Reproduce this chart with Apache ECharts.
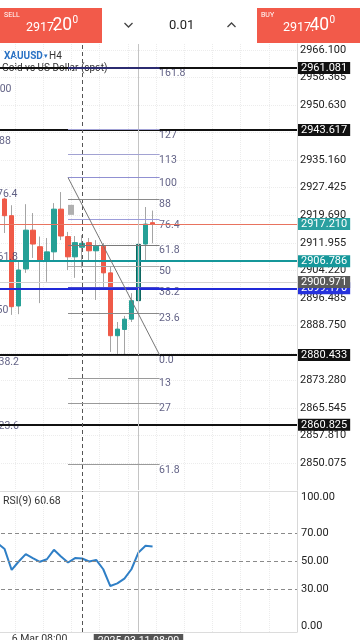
<!DOCTYPE html>
<html><head><meta charset="utf-8">
<script src="https://cdn.jsdelivr.net/npm/echarts@6/dist/echarts.min.js"></script>
<style>html,body{margin:0;padding:0;background:#fff;overflow:hidden;width:360px;height:640px;position:relative;}
#c{position:absolute;left:-13px;top:0;width:373px;height:640px;}</style>
</head><body><div id="c"></div>
<script>
// ---------- data ----------
const leadTimes = ['5 Mar 20:00', '6 Mar 00:00'];
const candleTimes = ['6 Mar 04:00','6 Mar 08:00','6 Mar 12:00','6 Mar 16:00','6 Mar 20:00',
  '7 Mar 00:00','7 Mar 04:00','7 Mar 08:00','7 Mar 12:00','7 Mar 16:00','7 Mar 20:00',
  '10 Mar 00:00','10 Mar 04:00','10 Mar 08:00','10 Mar 12:00','10 Mar 16:00','10 Mar 20:00',
  '11 Mar 00:00','11 Mar 04:00','11 Mar 08:00','11 Mar 12:00','11 Mar 16:00'];
const futureTimes = ['11 Mar 20:00','12 Mar 00:00','12 Mar 04:00','12 Mar 08:00','12 Mar 12:00','12 Mar 16:00','12 Mar 20:00',
  '13 Mar 00:00','13 Mar 04:00','13 Mar 08:00','13 Mar 12:00','13 Mar 16:00','13 Mar 20:00',
  '14 Mar 00:00','14 Mar 04:00','14 Mar 08:00','14 Mar 12:00','14 Mar 16:00','14 Mar 20:00','17 Mar 00:00'];

const opens  = [2924.25, 2919.56, 2894.2, 2904.6, 2915.5, 2910.85, 2906.9, 2909.4, 2921.4, 2913.7, 2908.0,
                2910.7, 2912.0, 2909.7, 2911.0, 2903.5, 2885.85, 2887.6, 2890.5, 2895.7, 2911.6, 2917.6];
const closes = [2919.56, 2894.0, 2904.3, 2915.5, 2911.6, 2906.9, 2909.4, 2921.4, 2913.85, 2908.0, 2912.0,
                2911.8, 2909.7, 2911.0, 2903.5, 2885.85, 2887.7, 2890.5, 2895.7, 2911.5, 2917.2, 2917.21];
const highs  = [2924.6, 2922.5, 2907.1, 2922.8, 2920.3, 2913.7, 2913.3, 2923.1, 2926.2, 2915.0, 2913.85,
                2914.1, 2913.3, 2912.7, 2911.9, 2905.4, 2889.7, 2891.4, 2897.8, 2911.6, 2922.0, 2921.0];
const lows   = [2914.7, 2891.7, 2891.9, 2903.5, 2907.7, 2895.0, 2901.0, 2906.6, 2912.7, 2904.3, 2902.1,
                2904.9, 2907.1, 2895.9, 2898.7, 2881.3, 2880.4, 2880.5, 2889.7, 2895.5, 2907.1, 2911.8];

// RSI(9): first value belongs to leadTimes[1], then one per candle
const rsi9 = [63.0, 58.8, 44.0, 50.0, 55.2, 52.4, 49.8, 51.6, 58.3, 53.6, 49.3, 52.4,
              52.1, 50.0, 51.1, 44.5, 32.6, 34.5, 37.9, 44.5, 56.4, 61.1, 60.68];

const priceTicks = [2966.100, 2958.365, 2950.630, 2942.895, 2935.160, 2927.425, 2919.690, 2911.955,
                    2904.220, 2896.485, 2888.750, 2881.015, 2873.280, 2865.545, 2857.810, 2850.075];
const hiddenTickLabels = [2942.895, 2881.015];
const levelPrices = [2961.081, 2943.617, 2917.210, 2906.786, 2899.170, 2900.971, 2880.433, 2860.825];

const fibLabels = ['161.8','127','113','100','88','76.4','61.8','50','38.2','23.6','0.0','13','27','61.8'];
const fibPrices = [2961.08, 2943.73, 2936.75, 2930.28, 2924.29, 2918.51, 2911.24, 2905.36, 2899.47,
                   2892.20, 2880.43, 2873.95, 2866.98, 2849.63];
const leftFibLabels = ['100','88','76.4','61.8','50','38.2','23.6'];
const leftFibPrices = [2954.87, 2940.40, 2925.52, 2907.68, 2892.93, 2878.33, 2860.35];

const rsiMidTicks = [30, 50, 70];
const rsiLevels = [30, 50, 70];
const markerPrice = 2921.2;
const crosshairLabel = '2025.03.11 08:00';

// ---------- styles ----------
const UP = '#26a096', DOWN = '#ef5a48', WICK = '#a5a5a5';
const levelStyles = [
  {c:'#111', w:2, bg:'#111'}, {c:'#111', w:2, bg:'#111'}, {c:'#e8735f', w:1, bg:'#2aa0a0'},
  {c:'#15979a', w:2, bg:'#15979a'}, {c:'#2029d8', w:2, bg:'#2632dc'}, {c:'#d2d2d2', w:1, bg:'#5a5a5a'},
  {c:'#111', w:2, bg:'#111'}, {c:'#111', w:2, bg:'#111'}
];
const fibColors = ['#2b2b70','#a2a2d6','#a2a2d2','#9090d2','#8a8a8a','#9d9dda','#7a7a7a','#ababab',
                   '#4a4ad0','#8a8a8a','#333','#9a9a9a','#9a9a9a','#9a9a9a'];
const leftLabelDx = [3.8, 9, 7, 7.5, 6.5, 8.5, 8.5];

// ---------- build ----------
const cats = leadTimes.concat(candleTimes, futureTimes);
const lead = leadTimes.length;
const fibStart = lead + 9, fibEnd = lead + 22;
const sepIdx = lead + candleTimes.indexOf('10 Mar 00:00');
const crossIdx = lead + candleTimes.indexOf('11 Mar 08:00');
const labelIdx = lead + candleTimes.indexOf('6 Mar 08:00');
const FONT = 'Roboto';
const OX = 13; // chart canvas starts 13px left of the page

const wickData = opens.map((o, i) => [lead + i, o, closes[i], lows[i], highs[i]]);
const bodyData = opens.map((o, i) => {
  const v = [lead + i, o, closes[i], Math.min(o, closes[i]), Math.max(o, closes[i])];
  return i === 19 ? {value: v, itemStyle: {borderColor: '#0d6660', borderWidth: 1}} : v;
});
const rsiData = rsi9.map((v, i) => [lead - 1 + i, v]);

const rsiAxisBase = {type: 'value', gridIndex: 1, position: 'right', min: 0, max: 100,
  axisTick: {show: false}, splitLine: {show: false}};
const chart = echarts.init(document.getElementById('c'));
const option = {
  animation: false,
  backgroundColor: '#fff',
  textStyle: {fontFamily: FONT},
  grid: [
    {left: 0, right: 63, top: 44, height: 446, outerBoundsMode: 'none', containLabel: false},
    {left: 0, right: 63, top: 491, height: 141, outerBoundsMode: 'none', containLabel: false}
  ],
  xAxis: [
    {type: 'category', gridIndex: 0, data: cats, boundaryGap: true,
     axisLine: {show: false}, axisTick: {show: false}, axisLabel: {show: false},
     splitLine: {show: true, interval: 3, lineStyle: {color: '#ececec', type: 'dotted'}}},
    {type: 'category', gridIndex: 1, data: cats, boundaryGap: true,
     axisLine: {show: true, lineStyle: {color: '#dcdcdc'}}, axisTick: {show: false},
     axisLabel: {interval: (i) => i === labelIdx, align: 'left', color: '#333', fontSize: 10.5, margin: 2, fontFamily: FONT},
     splitLine: {show: true, interval: 3, lineStyle: {color: '#ececec', type: 'dotted'}}}
  ],
  yAxis: [
    {type: 'value', gridIndex: 0, position: 'right', min: 2842.51, max: 2967.79, scale: true,
     axisLine: {show: true, lineStyle: {color: '#d8d8d8'}},
     axisTick: {show: false, customValues: priceTicks},
     axisLabel: {customValues: priceTicks.filter(v => hiddenTickLabels.indexOf(v) < 0),
       formatter: v => v.toFixed(3), color: '#222', fontSize: 11, margin: 3, fontFamily: FONT},
     splitLine: {show: true, lineStyle: {color: '#ececec', type: 'dotted'}}},
    Object.assign({}, rsiAxisBase, {
     axisLine: {show: true, lineStyle: {color: '#d8d8d8'}},
     axisLabel: {customValues: rsiMidTicks, margin: 4, color: '#222', fontSize: 11, fontFamily: FONT,
       formatter: v => v.toFixed(2)}}),
    Object.assign({}, rsiAxisBase, {
     axisLine: {show: false},
     axisLabel: {customValues: [100], showMaxLabel: true, margin: 4, color: '#222', fontSize: 11, fontFamily: FONT,
       verticalAlign: 'top', padding: [1, 0, 0, 0], formatter: v => v.toFixed(2)}}),
    Object.assign({}, rsiAxisBase, {
     axisLine: {show: false},
     axisLabel: {customValues: [0], showMinLabel: true, margin: 4, color: '#222', fontSize: 11, fontFamily: FONT,
       verticalAlign: 'bottom', formatter: v => v.toFixed(2)}})
  ],
  series: [
    {type: 'candlestick', name: 'wick', xAxisIndex: 0, yAxisIndex: 0, barWidth: 1,
     encode: {x: 0, y: [1, 2, 3, 4]}, data: wickData, silent: true,
     itemStyle: {color: WICK, color0: WICK, borderColor: WICK, borderColor0: WICK, borderWidth: 1},
     markLine: {silent: true, symbol: ['none', 'none'], animation: false,
       data: levelPrices.map((p, i) => ({
         yAxis: p,
         lineStyle: {color: levelStyles[i].c, width: levelStyles[i].w, type: 'solid'},
         label: {show: true, position: 'end', distance: 1, formatter: p.toFixed(3), color: '#fff',
                 backgroundColor: levelStyles[i].bg, padding: [1, 3, 0, 3], fontSize: 11, fontFamily: FONT}
       })).concat([
         {xAxis: sepIdx, lineStyle: {color: '#555', width: 1, type: [4, 3]}, label: {show: false}},
         {xAxis: crossIdx, lineStyle: {color: '#c4c4c4', width: 1, type: 'solid'}, label: {show: false}}
       ])}
    },
    {type: 'candlestick', name: 'body', xAxisIndex: 0, yAxisIndex: 0, barWidth: 5,
     encode: {x: 0, y: [1, 2, 3, 4]}, data: bodyData, silent: true,
     itemStyle: {color: UP, color0: DOWN, borderColor: UP, borderColor0: DOWN, borderWidth: 1},
     markLine: {silent: true, symbol: ['none', 'none'], animation: false, label: {show: false},
       data: fibPrices.map((p, i) => [
         {coord: [fibStart, p], lineStyle: {color: fibColors[i], width: i === 0 ? 2 : 1, type: 'solid'}},
         {coord: [fibEnd, p]}
       ]).concat([[
         {coord: [fibStart, fibPrices[3]], lineStyle: {color: '#777', width: 1, type: 'solid'}},
         {coord: [fibEnd, fibPrices[10]]}
       ]])},
     markPoint: {silent: true, animation: false,
       data: [{coord: [fibStart, markerPrice], symbol: 'rect', symbolSize: [6, 10], symbolOffset: [3, 0],
               itemStyle: {color: '#b0b0b0'}, label: {show: false}}]}
    },
    {type: 'scatter', xAxisIndex: 0, yAxisIndex: 0, silent: true, symbolSize: 1,
     itemStyle: {color: 'rgba(0,0,0,0)'},
     data: fibLabels.map((t, i) => ({name: t, value: [fibEnd, fibPrices[i]]})),
     label: {show: true, formatter: '{b}', position: [0, 6], align: 'left', verticalAlign: 'middle',
             color: '#3a3a66', fontSize: 10.5, fontFamily: FONT}},
    {type: 'scatter', xAxisIndex: 0, yAxisIndex: 0, silent: true, symbolSize: 1,
     itemStyle: {color: 'rgba(0,0,0,0)'},
     data: leftFibLabels.map((t, i) => ({name: t, value: [0, leftFibPrices[i]],
       label: {position: [leftLabelDx[i], 0]}})),
     label: {show: true, formatter: '{b}', align: 'left', verticalAlign: 'middle',
             color: '#3a3a66', fontSize: 10.5, fontFamily: FONT}},
    {type: 'line', name: 'RSI', xAxisIndex: 1, yAxisIndex: 1, data: rsiData, showSymbol: false, silent: true,
     lineStyle: {color: '#2f7fc6', width: 2}, itemStyle: {color: '#2f7fc6'},
     markLine: {silent: true, symbol: ['none', 'none'], animation: false,
       data: rsiLevels.map(v => ({yAxis: v, lineStyle: {color: '#8a8a8a', width: 1, type: [4, 3]}, label: {show: false}}))
         .concat([
           {yAxis: 100, lineStyle: {color: '#dcdcdc', width: 1, type: 'solid'}, label: {show: false}},
           {xAxis: sepIdx, lineStyle: {color: '#555', width: 1, type: [4, 3]}, label: {show: false}},
           {xAxis: crossIdx, lineStyle: {color: '#c4c4c4', width: 1, type: 'solid'},
            label: {show: true, position: 'start', distance: 2, formatter: crosshairLabel, color: '#fff',
                    backgroundColor: '#555', padding: [2, 4], fontSize: 10.5, fontFamily: FONT}}
         ])}
    }
  ],
  graphic: [
    {type: 'rect', shape: {x: OX + 0, y: 8, width: 102, height: 35}, style: {fill: '#f25a4a'}},
    {type: 'rect', shape: {x: OX + 257, y: 8, width: 103, height: 35}, style: {fill: '#f25a4a'}},
    {type: 'text', x: OX + 4, y: 15, style: {text: 'SELL', fill: '#fff', font: '7px Roboto', verticalAlign: 'middle'}},
    {type: 'text', x: OX + 26, y: 27.5, style: {text: '2917.', fill: '#fff', font: '12.5px Roboto', verticalAlign: 'middle'}},
    {type: 'text', x: OX + 52.5, y: 25.5, style: {text: '20', fill: '#fff', font: '17.5px Roboto', verticalAlign: 'middle'}},
    {type: 'text', x: OX + 72.5, y: 20.5, style: {text: '0', fill: '#fff', font: '10px Roboto', verticalAlign: 'middle'}},
    {type: 'text', x: OX + 261, y: 15, style: {text: 'BUY', fill: '#fff', font: '7px Roboto', verticalAlign: 'middle'}},
    {type: 'text', x: OX + 283, y: 27.5, style: {text: '2917.', fill: '#fff', font: '12.5px Roboto', verticalAlign: 'middle'}},
    {type: 'text', x: OX + 309.5, y: 25.5, style: {text: '40', fill: '#fff', font: '17.5px Roboto', verticalAlign: 'middle'}},
    {type: 'text', x: OX + 329.5, y: 20.5, style: {text: '0', fill: '#fff', font: '10px Roboto', verticalAlign: 'middle'}},
    {type: 'polyline', shape: {points: [[OX + 124.5, 23], [OX + 128.5, 27], [OX + 132.5, 23]]}, style: {stroke: '#444', lineWidth: 1.3, fill: null}},
    {type: 'polyline', shape: {points: [[OX + 227.5, 27], [OX + 231.5, 23], [OX + 235.5, 27]]}, style: {stroke: '#444', lineWidth: 1.3, fill: null}},
    {type: 'text', x: OX + 169, y: 25.5, style: {text: '0.01', fill: '#222', font: '13px Roboto', verticalAlign: 'middle'}},
    {type: 'text', x: OX + 4, y: 56, style: {text: 'XAUUSD', fill: '#2a72c4', font: 'bold 10px Roboto', verticalAlign: 'middle'}},
    {type: 'text', x: OX + 44, y: 56, style: {text: '▾', fill: '#2a72c4', font: '7px Roboto', verticalAlign: 'middle'}},
    {type: 'text', x: OX + 49, y: 56, style: {text: 'H4', fill: '#333', font: '10px Roboto', verticalAlign: 'middle'}},
    {type: 'text', x: OX + 2, y: 68.5, z: -1, style: {text: 'Gold vs US Dollar (spot)', fill: '#333', font: '10px Roboto', verticalAlign: 'middle'}},
    {type: 'text', x: OX + 3, y: 501, style: {text: 'RSI(9) 60.68', fill: '#333', font: '10.5px Roboto', verticalAlign: 'middle'}}
  ]
};
chart.setOption(option);
</script>
</body></html>
